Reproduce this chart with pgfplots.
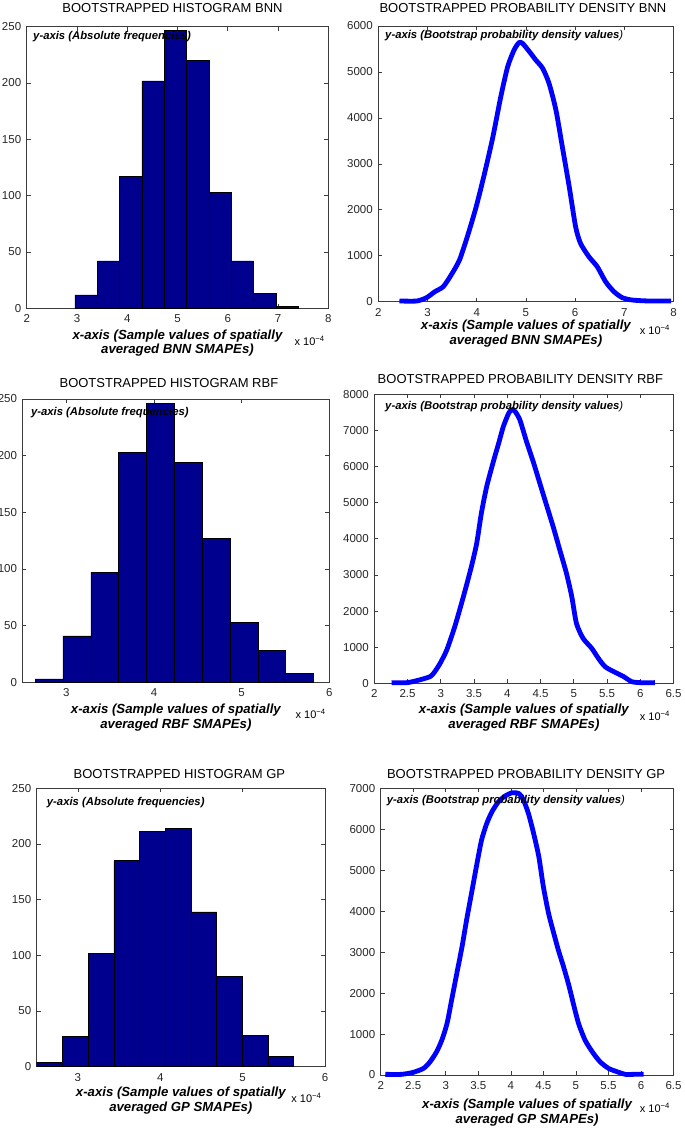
\documentclass[border=0pt]{standalone}
\usepackage{fontspec}
\setmainfont{Liberation Sans}
\usepackage{pgfplots}
\pgfplotsset{compat=1.18}

\definecolor{matblue}{RGB}{0,0,143}
\definecolor{lineblue}{RGB}{0,0,255}
\definecolor{axgray}{RGB}{60,60,60}

\newcommand\titlefont{\fontsize{13}{15}\selectfont}
\newcommand\labfont{\fontsize{13.2}{15}\selectfont\bfseries\itshape}
\newcommand\ylabfont{\fontsize{11.3}{13}\selectfont\bfseries\itshape}
\newcommand\expfont{\fontsize{11}{13}\selectfont}
\newcommand\xscale{x 10\textsuperscript{−4}}

\pgfplotsset{
  matlab/.style={
    scale only axis,
    axis line style={draw=axgray, line width=0.7pt},
    tick style={draw=axgray, line width=0.6pt},
    tick align=inside,
    major tick length=4pt,
    tick label style={font=\fontsize{11.5}{13}\selectfont, black!85},
    x tick label style={yshift=-3pt},
    y tick label style={xshift=-2pt},
    /pgf/number format/assume math mode=true,
    /pgf/number format/1000 sep={},
    scaled ticks=false,
    clip mode=individual,
    ymin=0,
  },
  hist/.style={matlab},
  dens/.style={matlab, clip=false},
}

\begin{document}
\begin{tikzpicture}[x=1pt,y=1pt]
\path[use as bounding box] (0,0) rectangle (685,1130);

% ---------- row 1: BNN ----------
\begin{axis}[hist, at={(26.7pt,821.7pt)}, anchor=south west,
  width=301.6pt, height=281.6pt,
  xmin=2, xmax=8, ymax=250,
  xtick={2,3,4,5,6,7,8}, ytick={0,50,100,150,200,250}]
\addplot[ybar interval, fill=matblue, draw=black, line width=0.5pt] coordinates {
  (2.960,12) (3.404,42) (3.848,117) (4.292,202) (4.736,247)
  (5.180,220) (5.624,103) (6.068,42) (6.512,13) (6.956,2) (7.400,2)};
\node[anchor=base, font=\titlefont, xshift=-5pt, yshift=19pt-4.7pt] at (rel axis cs:0.5,1) {BOOTSTRAPPED HISTOGRAM BNN};
\node[anchor=base west, font=\ylabfont, xshift=3pt, yshift=-13.3pt] at (rel axis cs:0,1) {y-axis (Absolute frequencies)};
\node[anchor=base, font=\labfont, yshift=-31pt] at (rel axis cs:0.5,0) {x-axis (Sample values of spatially};
\node[anchor=base, font=\labfont, yshift=-45pt] at (rel axis cs:0.5,0) {averaged BNN SMAPEs)};
\node[anchor=base east, font=\expfont, yshift=-37pt] at (rel axis cs:1,0) {\xscale};
\end{axis}

\begin{axis}[dens, at={(378.3pt,828.3pt)}, anchor=south west,
  width=295.2pt, height=275.7pt,
  xmin=2, xmax=8, ymax=6000,
  xtick={2,3,4,5,6,7,8}, ytick={0,1000,2000,3000,4000,5000,6000}]
\addplot[lineblue, line width=4.8pt, line join=round, smooth, tension=0.4] coordinates {
  (2.43,15) (2.78,15) (2.98,87) (3.15,218) (3.32,327) (3.48,580) (3.65,907)
  (3.82,1451) (3.99,2068) (4.16,2794) (4.33,3592) (4.49,4463) (4.63,5116)
  (4.76,5479) (4.86,5639) (4.93,5624) (5.07,5443) (5.20,5261) (5.34,5080)
  (5.47,4753) (5.61,4173) (5.74,3374) (5.88,2504) (6.01,1633) (6.11,1270)
  (6.28,980) (6.45,762) (6.62,435) (6.79,218) (6.96,87) (7.16,36) (7.50,15) (7.95,15)};
\node[anchor=base, font=\titlefont, xshift=-3pt, yshift=18pt-4.7pt] at (rel axis cs:0.5,1) {BOOTSTRAPPED PROBABILITY DENSITY BNN};
\node[anchor=base west, font=\ylabfont, xshift=3.4pt, yshift=-13pt] at (rel axis cs:0,1) {y-axis (Bootstrap probability density values\textmd{)}};
\node[anchor=base, font=\labfont, yshift=-28.3pt] at (rel axis cs:0.5,0) {x-axis (Sample values of spatially};
\node[anchor=base, font=\labfont, yshift=-43.3pt] at (rel axis cs:0.5,0) {averaged BNN SMAPEs)};
\node[anchor=base east, font=\expfont, yshift=-33pt] at (rel axis cs:1,0) {\xscale};
\end{axis}

% ---------- row 2: RBF ----------
\begin{axis}[hist, at={(22.5pt,447.7pt)}, anchor=south west,
  width=306.8pt, height=283.3pt,
  xmin=2.5, xmax=6, ymax=250,
  xtick={3,4,5,6}, ytick={0,50,100,150,200,250}]
\addplot[ybar interval, fill=matblue, draw=black, line width=0.5pt] coordinates {
  (2.644,3) (2.962,41) (3.279,97) (3.597,203) (3.914,246)
  (4.232,194) (4.550,127) (4.867,53) (5.185,28) (5.502,8) (5.820,8)};
\node[anchor=base, font=\titlefont, xshift=-7pt, yshift=16pt-4.7pt] at (rel axis cs:0.5,1) {BOOTSTRAPPED HISTOGRAM RBF};
\node[anchor=base west, font=\ylabfont, xshift=5pt, yshift=-16.4pt] at (rel axis cs:0,1) {y-axis (Absolute frequencies)};
\node[anchor=base, font=\labfont, yshift=-31pt] at (rel axis cs:0.5,0) {x-axis (Sample values of spatially};
\node[anchor=base, font=\labfont, yshift=-46pt] at (rel axis cs:0.5,0) {averaged RBF SMAPEs)};
\node[anchor=base east, font=\expfont, yshift=-36pt] at (rel axis cs:1,0) {\xscale};
\end{axis}

\begin{axis}[dens, at={(374.3pt,446.7pt)}, anchor=south west,
  width=299.2pt, height=289pt,
  xmin=2, xmax=6.5, ymax=8000,
  xtick={2,2.5,3,3.5,4,4.5,5,5.5,6,6.5},
  ytick={0,1000,2000,3000,4000,5000,6000,7000,8000}]
\addplot[lineblue, line width=4.8pt, line join=round, smooth, tension=0.4] coordinates {
  (2.26,18) (2.49,18) (2.64,74) (2.84,185) (2.91,323) (2.99,553) (3.09,923)
  (3.21,1568) (3.34,2399) (3.46,3229) (3.54,3875) (3.61,4705) (3.69,5443)
  (3.79,6135) (3.87,6642) (3.94,7103) (4.02,7472) (4.07,7583) (4.12,7518)
  (4.19,7288) (4.29,6688) (4.39,6135) (4.49,5535) (4.59,4935) (4.69,4336)
  (4.79,3690) (4.89,3044) (4.97,2399) (5.04,1660) (5.14,1245) (5.27,969)
  (5.37,692) (5.47,461) (5.60,323) (5.75,185) (5.87,46) (6.00,18) (6.22,18)};
\node[anchor=base, font=\titlefont, xshift=-3.5pt, yshift=16pt-4.7pt] at (rel axis cs:0.5,1) {BOOTSTRAPPED PROBABILITY DENSITY RBF};
\node[anchor=base west, font=\ylabfont, xshift=7.4pt, yshift=-15pt] at (rel axis cs:0,1) {y-axis (Bootstrap probability density values\textmd{)}};
\node[anchor=base, font=\labfont, yshift=-30pt] at (rel axis cs:0.5,0) {x-axis (Sample values of spatially};
\node[anchor=base, font=\labfont, yshift=-45pt] at (rel axis cs:0.5,0) {averaged RBF SMAPEs)};
\node[anchor=base east, font=\expfont, yshift=-37pt] at (rel axis cs:1,0) {\xscale};
\end{axis}

% ---------- row 3: GP ----------
\begin{axis}[hist, at={(36.7pt,63.3pt)}, anchor=south west,
  width=288.3pt, height=278.4pt,
  xmin=2.5, xmax=6, ymax=250,
  xtick={3,4,5,6}, ytick={0,50,100,150,200,250}]
\addplot[ybar interval, fill=matblue, draw=black, line width=0.5pt] coordinates {
  (2.500,4) (2.812,27) (3.124,102) (3.436,185) (3.748,211)
  (4.060,214) (4.372,139) (4.684,81) (4.996,28) (5.308,9) (5.620,9)};
\node[anchor=base, font=\titlefont, xshift=-1.5pt, yshift=15pt-4.7pt] at (rel axis cs:0.5,1) {BOOTSTRAPPED HISTOGRAM GP};
\node[anchor=base west, font=\ylabfont, xshift=6.7pt, yshift=-17.4pt] at (rel axis cs:0,1) {y-axis (Absolute frequencies)};
\node[anchor=base, font=\labfont, yshift=-30pt] at (rel axis cs:0.5,0) {x-axis (Sample values of spatially};
\node[anchor=base, font=\labfont, yshift=-45pt] at (rel axis cs:0.5,0) {averaged GP SMAPEs)};
\node[anchor=base east, font=\expfont, yshift=-36pt] at (rel axis cs:1,0) {\xscale};
\end{axis}

\begin{axis}[dens, at={(380.7pt,55pt)}, anchor=south west,
  width=292.8pt, height=286.7pt,
  xmin=2, xmax=6.5, ymax=7000,
  xtick={2,2.5,3,3.5,4,4.5,5,5.5,6,6.5},
  ytick={0,1000,2000,3000,4000,5000,6000,7000}]
\addplot[lineblue, line width=4.8pt, line join=round, smooth, tension=0.4] coordinates {
  (2.07,16) (2.32,16) (2.50,65) (2.66,163) (2.76,325) (2.86,570) (2.94,854)
  (3.02,1261) (3.09,1831) (3.17,2482) (3.25,3133) (3.32,3784) (3.40,4475)
  (3.48,5167) (3.55,5737) (3.63,6143) (3.71,6428) (3.81,6672) (3.91,6810)
  (4.02,6892) (4.12,6876) (4.19,6729) (4.27,6387) (4.35,5900) (4.43,5330)
  (4.50,4597) (4.58,3946) (4.66,3458) (4.73,3051) (4.81,2644) (4.89,2197)
  (4.96,1749) (5.04,1261) (5.14,854) (5.25,570) (5.37,325) (5.50,163)
  (5.63,81) (5.76,16) (5.89,16) (6.04,16)};
\node[anchor=base, font=\titlefont, xshift=-1pt, yshift=15pt-4.7pt] at (rel axis cs:0.5,1) {BOOTSTRAPPED PROBABILITY DENSITY GP};
\node[anchor=base west, font=\ylabfont, xshift=2.7pt, yshift=-15pt] at (rel axis cs:0,1) {y-axis (Bootstrap probability density values\textmd{)}};
\node[anchor=base, font=\labfont, yshift=-33pt] at (rel axis cs:0.5,0) {x-axis (Sample values of spatially};
\node[anchor=base, font=\labfont, yshift=-48pt] at (rel axis cs:0.5,0) {averaged GP SMAPEs)};
\node[anchor=base east, font=\expfont, yshift=-37pt] at (rel axis cs:1,0) {\xscale};
\end{axis}
\end{tikzpicture}
\end{document}
